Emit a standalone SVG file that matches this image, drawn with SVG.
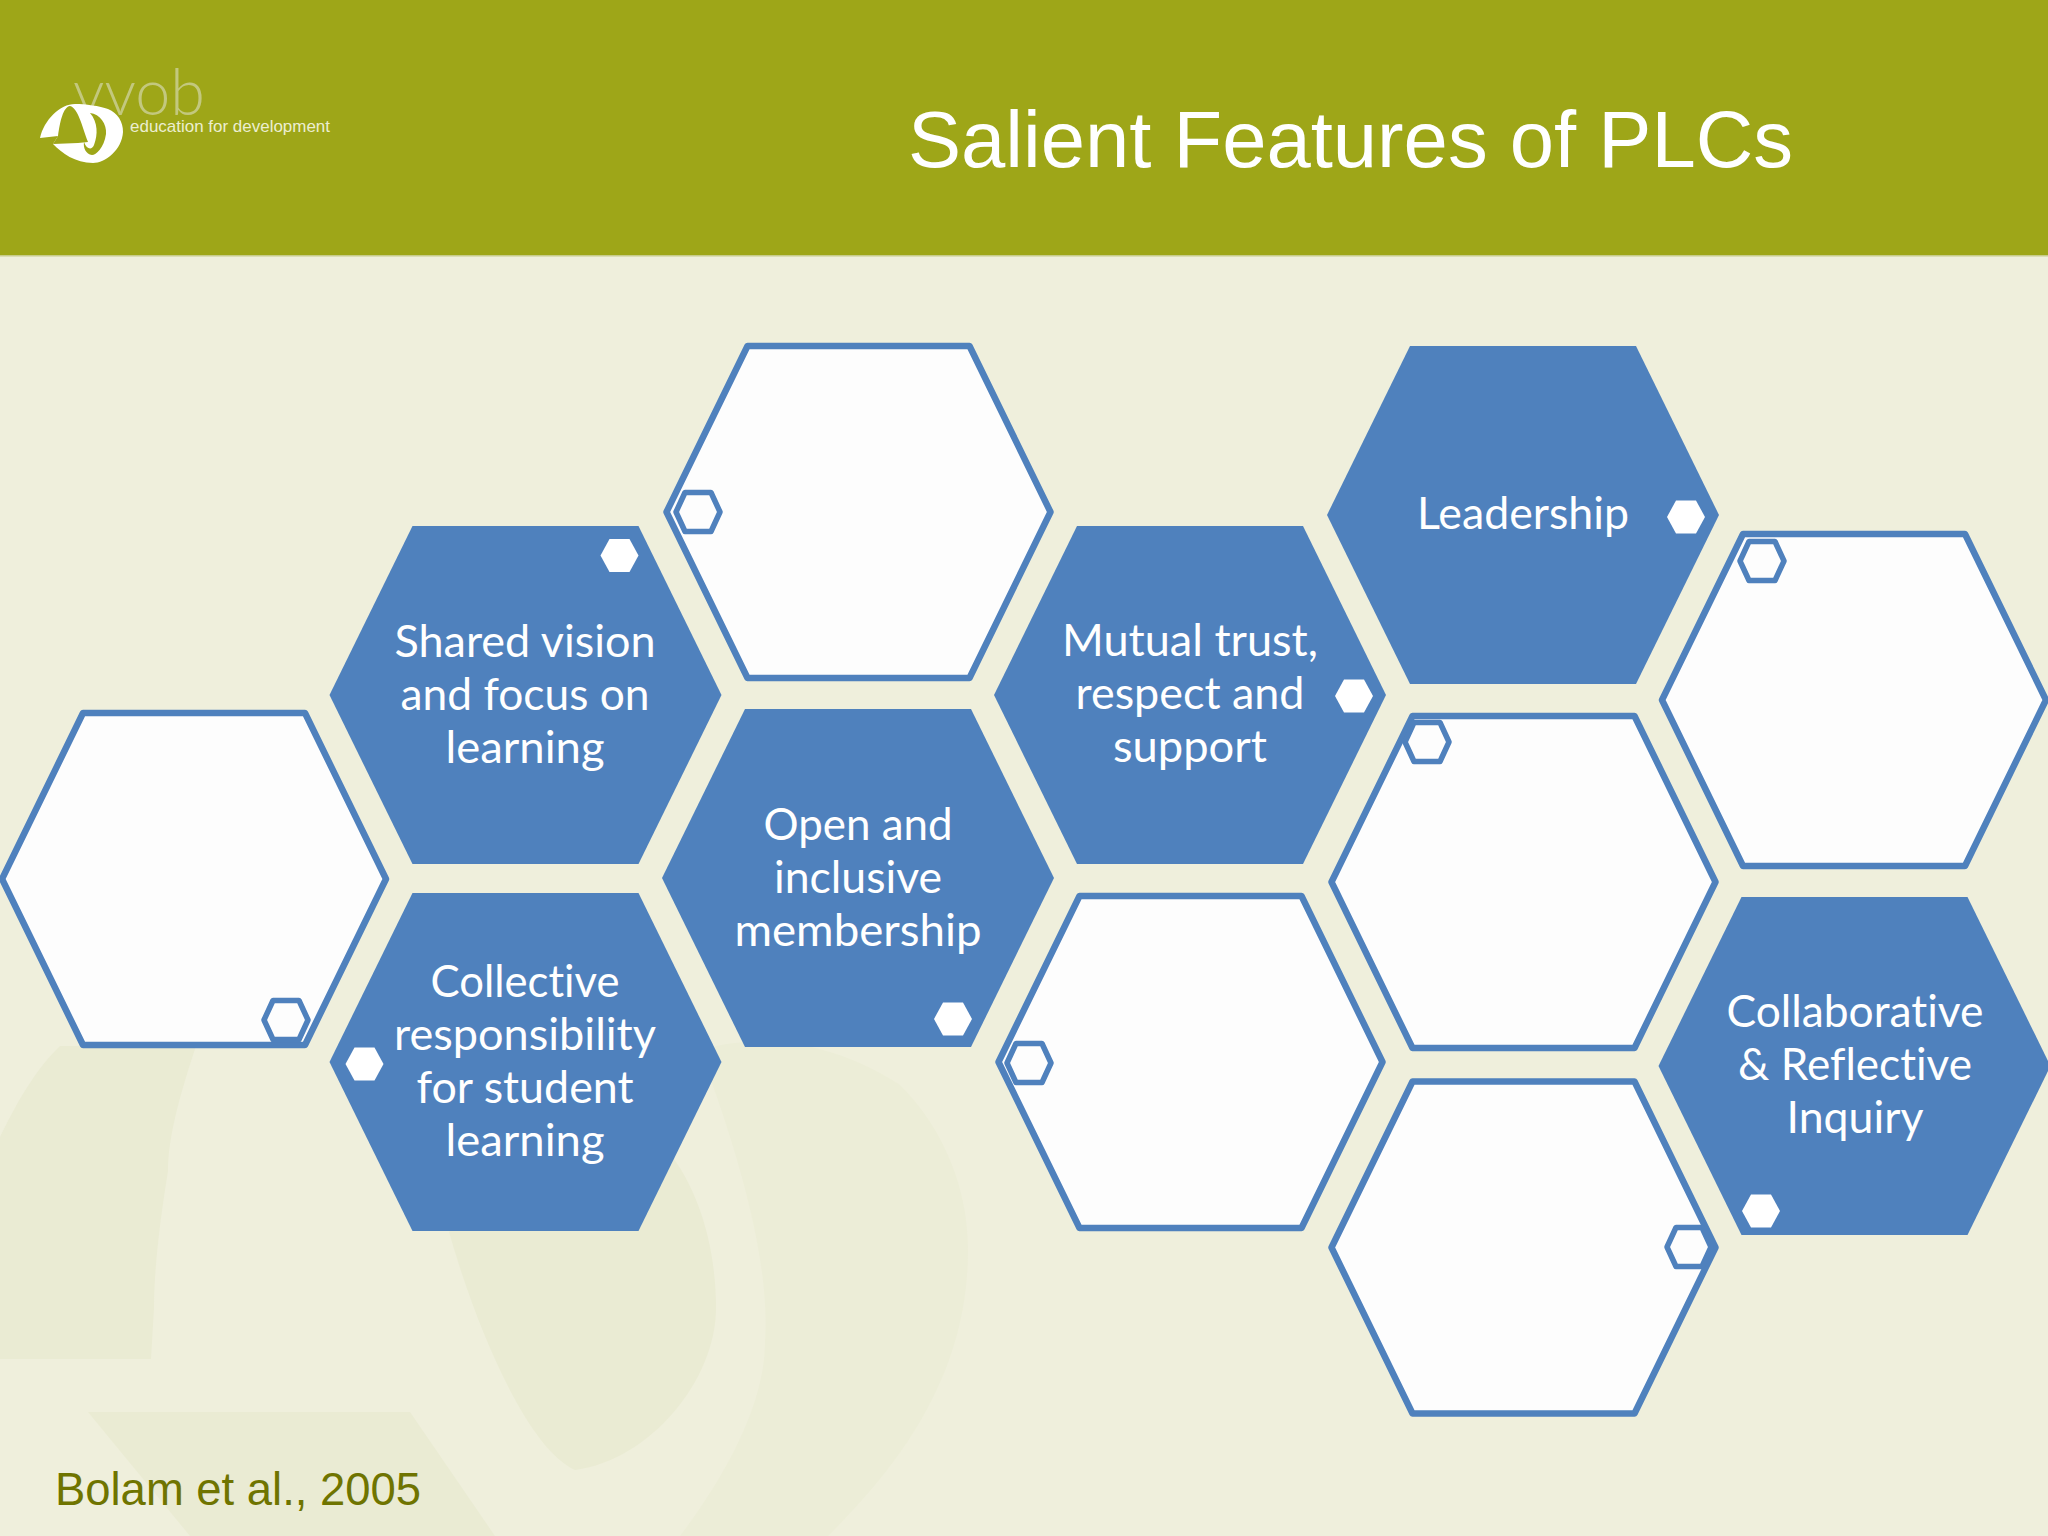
<svg xmlns="http://www.w3.org/2000/svg" width="2048" height="1536" viewBox="0 0 2048 1536">
<style>
.lbl{font-family:"Lato","Carlito","Noto Sans",sans-serif;font-size:44px;fill:#fff;text-anchor:middle;font-variant-ligatures:none}
.ttl{font-family:"Liberation Sans",Arial,sans-serif}
.wm{fill:#eaebd3}
.wm2{fill:#ecedd7}
</style>
<defs>
<path id="bh" d="M-196 0L-113-169H113L196 0L113 169H-113Z" fill="#4f81bd"/>
<path id="wh" d="M-192 0L-111-166H111L192 0L111 166H-111Z" fill="#fdfdfd" stroke="#4f81bd" stroke-width="6.500" stroke-linejoin="round"/>
<path id="sw" d="M-19 0L-10-16.500H10L19 0L10 16.500H-10Z" fill="#fff"/>
<path id="so" d="M-22 0L-13-19.500H13L22 0L13 19.500H-13Z" fill="#fdfdfd" stroke="#4f81bd" stroke-width="5.500" stroke-linejoin="round"/>
</defs>
<rect id="background" width="2048" height="1536" fill="#efefdc"/>
<g id="watermark">
<path class="wm" d="M0 1137C20 1095 40 1065 60 1046L196 1046C178 1100 168 1140 168 1171C160 1220 154 1270 154 1308L151 1359H0Z"/>
<path class="wm" d="M88 1412H410L495 1536H190Z"/>
<path class="wm2" d="M700 1050C770 1030 842 1047 900 1085C945 1130 968 1190 968 1250C968 1370 905 1460 828 1536H680C730 1470 765 1400 765 1342C770 1270 745 1170 700 1050Z"/>
<path class="wm" d="M449 1232C520 1180 600 1140 667 1150C700 1190 716 1250 716 1308C716 1380 650 1460 575 1470C530 1450 480 1340 449 1232Z"/>
</g>
<rect id="header" width="2048" height="255" fill="#9ea618"/>
<rect y="255" width="2048" height="1.500" fill="#c7cc8a"/>
<g id="logo">
<text x="73" y="115" style="font-family:'Lato',sans-serif;font-weight:300" font-size="66" fill="#c3c87e" textLength="132" lengthAdjust="spacingAndGlyphs">vvob</text>
<path fill="#fff" d="M40 138C44 120 60 104 75 104C85 104 100 106 108 109C118 113 123 122 123 132C122 150 105 163 93 163C75 163 62 153 53 144L58 136Z"/>
<path fill="#9ea618" d="M58 136C60 122 63 107 70 106C78 108 82 126 88 142L78 143L53 144Z"/>
<path fill="#9ea618" d="M90 113C100 114 107 124 106 134C104 148 96 155 92 155C86 154 83 148 84 142C87 150 92 150 94 145C98 135 98 122 90 113Z"/>
<text x="130" y="132" class="ttl" font-size="17" fill="#eceed0" textLength="200" lengthAdjust="spacingAndGlyphs">education for development</text>
</g>
<text id="title" x="908" y="167" class="ttl" font-size="80" fill="#fff" textLength="885" lengthAdjust="spacingAndGlyphs">Salient Features of PLCs</text>
<text id="citation" x="55" y="1505" class="ttl" font-size="46" fill="#6f7400" textLength="366" lengthAdjust="spacingAndGlyphs">Bolam et al., 2005</text>
<g id="connectors"></g>
<g id="node-shared-vision"><use href="#bh" x="525.500" y="695"/><use href="#sw" x="619.500" y="555.500"/>
<text class="lbl" x="525" y="657" textLength="261" lengthAdjust="spacingAndGlyphs">Shared vision</text><text class="lbl" x="525" y="710" textLength="249" lengthAdjust="spacingAndGlyphs">and focus on</text><text class="lbl" x="525" y="763" textLength="159" lengthAdjust="spacingAndGlyphs">learning</text></g>
<g id="node-collective"><use href="#bh" x="525.500" y="1062"/><use href="#sw" x="364.500" y="1064"/>
<text class="lbl" x="525" y="997" textLength="189" lengthAdjust="spacingAndGlyphs">Collective</text><text class="lbl" x="525" y="1050" textLength="262" lengthAdjust="spacingAndGlyphs">responsibility</text><text class="lbl" x="525" y="1103" textLength="217" lengthAdjust="spacingAndGlyphs">for student</text><text class="lbl" x="525" y="1156" textLength="159" lengthAdjust="spacingAndGlyphs">learning</text></g>
<g id="node-open"><use href="#bh" x="858" y="878"/><use href="#sw" x="953" y="1019"/>
<text class="lbl" x="858" y="840" textLength="189" lengthAdjust="spacingAndGlyphs">Open and</text><text class="lbl" x="858" y="893" textLength="168" lengthAdjust="spacingAndGlyphs">inclusive</text><text class="lbl" x="858" y="946" textLength="247" lengthAdjust="spacingAndGlyphs">membership</text></g>
<g id="node-mutual"><use href="#bh" x="1190" y="695"/><use href="#sw" x="1354" y="696"/>
<text class="lbl" x="1190" y="656" textLength="256" lengthAdjust="spacingAndGlyphs">Mutual trust,</text><text class="lbl" x="1190" y="709" textLength="229" lengthAdjust="spacingAndGlyphs">respect and</text><text class="lbl" x="1190" y="762" textLength="154" lengthAdjust="spacingAndGlyphs">support</text></g>
<g id="node-leadership"><use href="#bh" x="1523" y="515"/><use href="#sw" x="1686" y="517"/>
<text class="lbl" x="1523" y="529" textLength="212" lengthAdjust="spacingAndGlyphs">Leadership</text></g>
<g id="node-collaborative"><use href="#bh" x="1854.500" y="1066"/><use href="#sw" x="1761" y="1211"/>
<text class="lbl" x="1855" y="1027" textLength="257" lengthAdjust="spacingAndGlyphs">Collaborative</text><text class="lbl" x="1855" y="1080" textLength="234" lengthAdjust="spacingAndGlyphs">&amp; Reflective</text><text class="lbl" x="1855" y="1133" textLength="137" lengthAdjust="spacingAndGlyphs">Inquiry</text></g>
<g id="node-blank-1"><use href="#wh" x="858.500" y="512"/><use href="#so" x="698" y="512"/></g>
<g id="node-blank-2"><use href="#wh" x="194" y="879"/><use href="#so" x="286" y="1020"/></g>
<g id="node-blank-3"><use href="#wh" x="1190.500" y="1062"/><use href="#so" x="1029" y="1063"/></g>
<g id="node-blank-4"><use href="#wh" x="1523.500" y="882"/><use href="#so" x="1427" y="742"/></g>
<g id="node-blank-5"><use href="#wh" x="1523.500" y="1247.500"/><use href="#so" x="1689" y="1247"/></g>
<g id="node-blank-6"><use href="#wh" x="1854" y="700"/><use href="#so" x="1762" y="561"/></g>
</svg>
